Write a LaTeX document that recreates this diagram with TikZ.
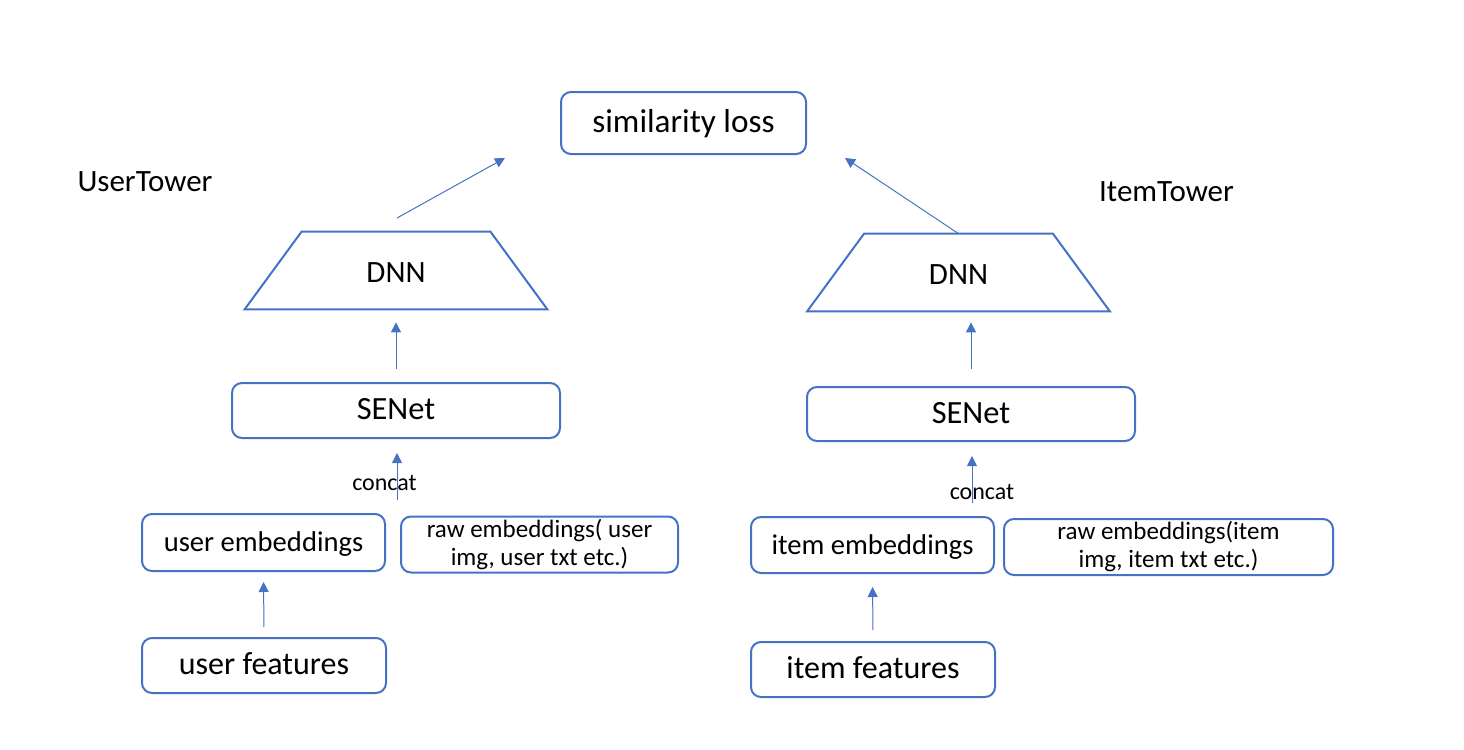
\documentclass[tikz,border=0pt]{standalone}
\usepackage{fontspec}
\setmainfont{Carlito}
\usetikzlibrary{arrows.meta}
\definecolor{edgeblue}{HTML}{4472C4}

\begin{document}
\begin{tikzpicture}[x=0.5pt,y=-0.5pt,
  box/.style={draw=edgeblue,line width=1pt,rounded corners=5pt,inner sep=0pt,
    text height=0.95em,text depth=0.05em},
  twobox/.style={draw=edgeblue,line width=1pt,rounded corners=5pt,inner sep=0pt,
    align=center,font=\fontsize{12.5}{14}\selectfont},
  dnn/.style={inner sep=0pt,minimum width=151pt,minimum height=38.5pt,
    text height=1.25em,text depth=0.05em,font=\fontsize{15.5}{18}\selectfont},
  dnnline/.style={draw=edgeblue,line width=1pt},
  arr/.style={draw=edgeblue,line width=0.5pt,-{Triangle[length=5pt,width=5pt]}}]
  \useasboundingbox (0,0) rectangle (1464,750);

  % loss on top
  \node[box,minimum width=122.5pt,minimum height=31pt,font=\fontsize{16.6}{20}\selectfont] (loss) at (683.5,123) {similarity loss};
  \node[font=\fontsize{15.5}{18}\selectfont] (userT) at (145,182) {UserTower};
  \node[font=\fontsize{15.5}{18}\selectfont] (itemT) at (1166.5,192) {ItemTower};

  % user tower
  \node[dnn] (dnnU) at (396,270.5) {DNN};
  \draw[dnnline] (dnnU.south west) -- ([xshift=28.5pt]dnnU.north west)
    -- ([xshift=-28.5pt]dnnU.north east) -- (dnnU.south east) -- cycle;
  \node[box,minimum width=164pt,minimum height=27.5pt,font=\fontsize{16.2}{19}\selectfont] (senetU) at (396,410.5) {SENet};
  \node[font=\fontsize{12}{14}\selectfont] (catU) at (384.5,483) {concat};
  \node[box,minimum width=121.5pt,minimum height=28.5pt,font=\fontsize{14.3}{17}\selectfont] (embU) at (263.5,542.5) {user embeddings};
  \node[twobox,minimum width=138.5pt,minimum height=28pt] (rawU) at (539.5,544.5) {raw embeddings( user\\img, user txt etc.)};
  \node[box,minimum width=122pt,minimum height=27.5pt,font=\fontsize{16}{19}\selectfont] (featU) at (264,665.5) {user features};

  % item tower
  \node[dnn] (dnnI) at (958.5,272.5) {DNN};
  \draw[dnnline] (dnnI.south west) -- ([xshift=28.5pt]dnnI.north west)
    -- ([xshift=-28.5pt]dnnI.north east) -- (dnnI.south east) -- cycle;
  \node[box,minimum width=164pt,minimum height=27pt,font=\fontsize{16.2}{19}\selectfont] (senetI) at (971,414) {SENet};
  \node[font=\fontsize{12}{14}\selectfont] (catI) at (982,492) {concat};
  \node[box,minimum width=121.5pt,minimum height=28pt,font=\fontsize{14.3}{17}\selectfont] (embI) at (872.5,545) {item embeddings};
  \node[twobox,minimum width=164.5pt,minimum height=28pt] (rawI) at (1168.5,547) {raw embeddings(item\\img, item txt etc.)};
  \node[box,minimum width=122pt,minimum height=27.5pt,font=\fontsize{16}{19}\selectfont] (featI) at (873,669.5) {item features};

  \coordinate (uOut) at (397,218);
  \coordinate (uIn) at (505,158);
  \coordinate (iIn) at (845,158);
  \coordinate (catUin) at (397,500);
  \coordinate (catIin) at (972,503);

  \draw[arr] (uOut) -- (uIn);
  \draw[arr] (dnnI.north) -- (iIn);
  \draw[arr,shorten <=6.5pt,shorten >=6.5pt] (senetU.north) -- (dnnU.south);
  \draw[arr,shorten <=8.5pt,shorten >=5.5pt] (senetI.north) -- (senetI.north |- dnnI.south);
  \draw[arr,shorten >=7pt] (catUin) -- (catUin |- senetU.south);
  \draw[arr,shorten >=7pt] (catIin) -- (catIin |- senetI.south);
  \draw[arr,shorten <=5pt,shorten >=5pt] (featU.north) -- (embU.south);
  \draw[arr,shorten <=5.5pt,shorten >=6.5pt] (featI.north) -- (embI.south);
\end{tikzpicture}
\end{document}
